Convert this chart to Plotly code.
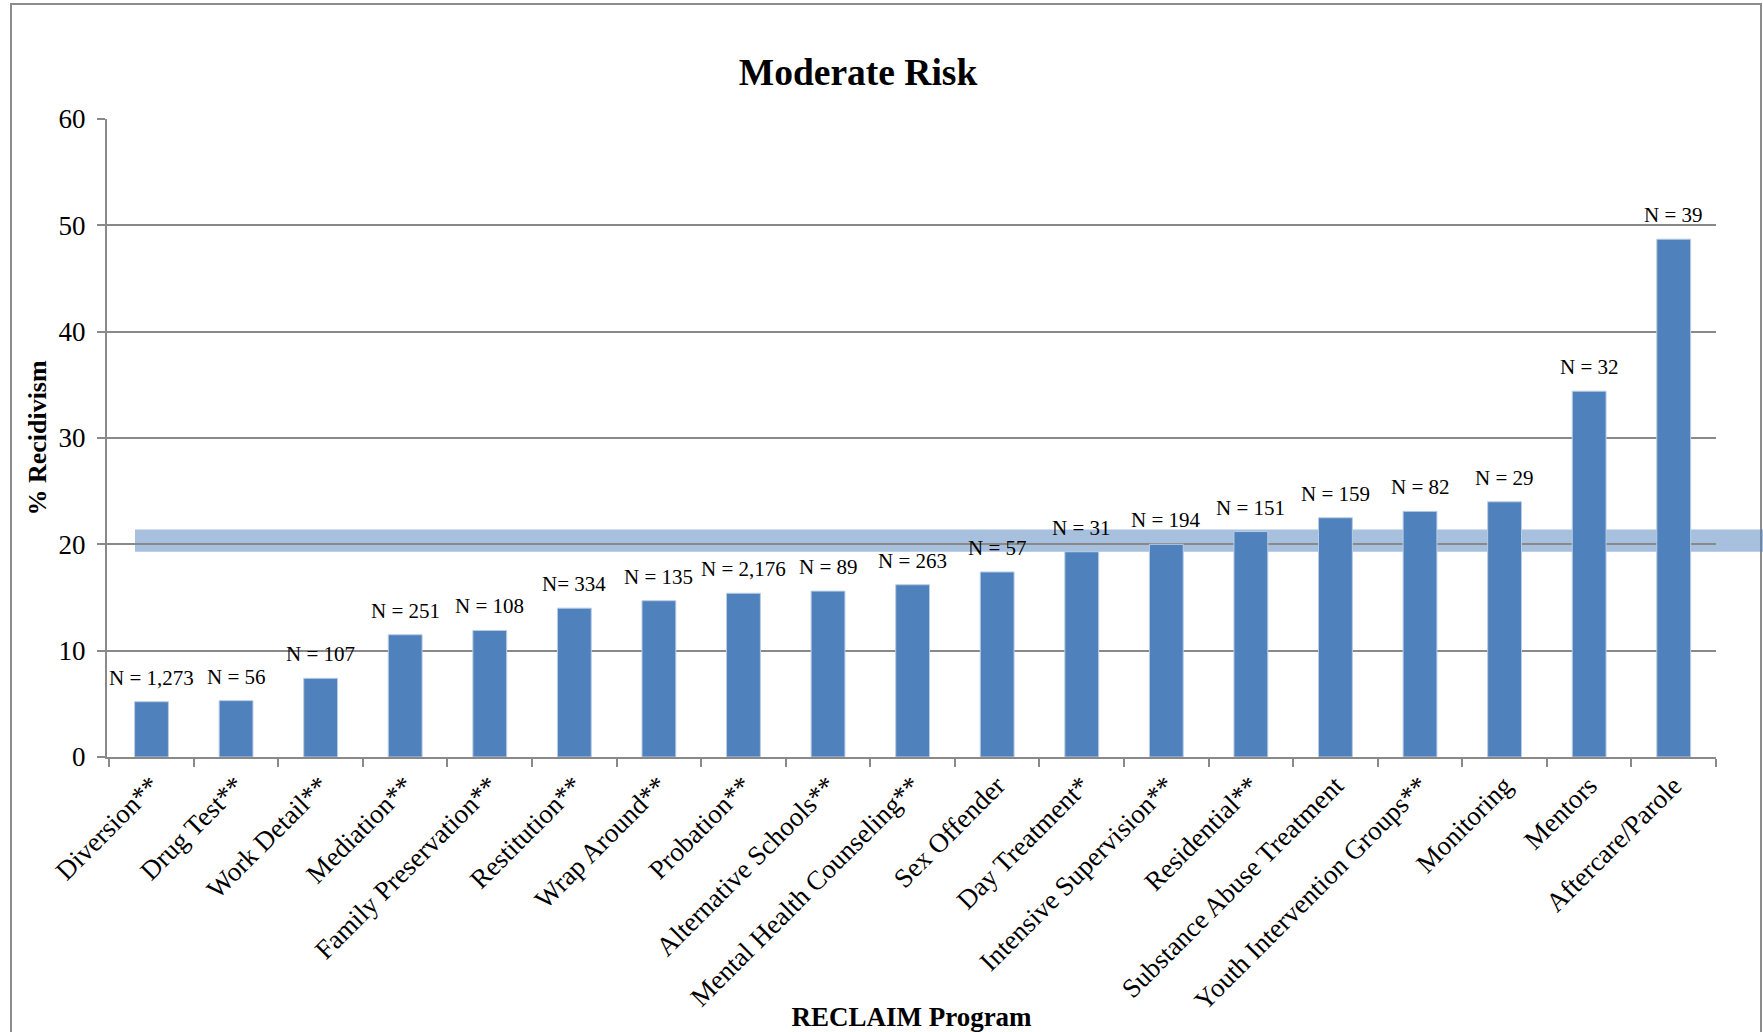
import plotly.graph_objects as go

programs = [
    "Diversion**", "Drug Test**", "Work Detail**", "Mediation**",
    "Family Preservation**", "Restitution**", "Wrap Around**", "Probation**",
    "Alternative Schools**", "Mental Health Counseling**", "Sex Offender",
    "Day Treatment*", "Intensive Supervision**", "Residential**",
    "Substance Abuse Treatment", "Youth Intervention Groups**", "Monitoring",
    "Mentors", "Aftercare/Parole",
]
recidivism = [5.2, 5.3, 7.4, 11.5, 11.9, 14.0, 14.7, 15.4, 15.6, 16.2,
              17.4, 19.3, 20.0, 21.2, 22.5, 23.1, 24.0, 34.4, 48.7]
n_labels = ["N = 1,273", "N = 56", "N = 107", "N = 251", "N = 108", "N= 334",
            "N = 135", "N = 2,176", "N = 89", "N = 263", "N = 57", "N = 31",
            "N = 194", "N = 151", "N = 159", "N = 82", "N = 29", "N = 32",
            "N = 39"]
y_ticks = [0, 10, 20, 30, 40, 50, 60]
band_low, band_high = 19.3, 21.4

FONT = "Liberation Serif"
GRID = "#898989"

W, H = 1763, 1032
L, T = 107, 119
PW, PH = 1609, 638

fig = go.Figure()
fig.add_trace(go.Bar(
    x=programs, y=recidivism,
    marker=dict(color="#4f81bd", line=dict(color="#b9cde5", width=1)),
    hoverinfo="x+y",
))

annotations = []
for p, v, t in zip(programs, recidivism, n_labels):
    annotations.append(dict(
        x=p, y=v, xref="x", yref="y", text=t, showarrow=False,
        yanchor="bottom", yshift=10,
        font=dict(family=FONT, size=21, color="#000000"),
    ))

shapes = [
    # outer chart frame
    dict(type="rect", xref="paper", yref="paper",
         x0=(11 - L) / PW, x1=(1761 - L) / PW, y0=-0.45, y1=(T + PH - 4) / PH,
         line=dict(color="#8c8c8c", width=2), fillcolor="rgba(0,0,0,0)",
         layer="below"),
    # highlight band
    dict(type="rect", xref="paper", yref="y",
         x0=0.0174, x1=1.04, y0=band_low, y1=band_high,
         line=dict(width=0), fillcolor="rgba(79,129,189,0.5)",
         layer="below"),
]

fig.update_layout(
    width=W, height=H,
    margin=dict(l=L, r=W - L - PW, t=T, b=H - T - PH, autoexpand=False),
    paper_bgcolor="white", plot_bgcolor="rgba(0,0,0,0)",
    font=dict(family=FONT, color="#000000"),
    bargap=0.6,
    showlegend=False,
    title=dict(text="<b>Moderate Risk</b>", x=858 / W, xref="container",
               xanchor="center", y=1 - 72 / H, yref="container",
               yanchor="middle", font=dict(family=FONT, size=37.5, color="#000")),
    annotations=annotations,
    shapes=shapes,
)
fig.update_xaxes(
    type="category", tickangle=-45, tickson="boundaries",
    ticks="outside", ticklen=8, tickcolor=GRID, tickwidth=2,
    showline=True, linecolor=GRID, linewidth=2,
    tickfont=dict(family=FONT, size=27, color="#000"),
    title=dict(text="<b>RECLAIM Program</b>", standoff=12,
               font=dict(family=FONT, size=27, color="#000")),
    showgrid=False, automargin=False,
)
fig.update_yaxes(
    range=[0, 60], tickvals=y_ticks, ticks="outside", ticklen=8,
    tickcolor=GRID, tickwidth=2,
    showline=True, linecolor=GRID, linewidth=2,
    showgrid=True, gridcolor=GRID, gridwidth=2,
    zeroline=False, ticklabelstandoff=6,
    tickfont=dict(family=FONT, size=27, color="#000"),
    title=dict(text="<b>% Recidivism</b>", standoff=4,
               font=dict(family=FONT, size=26, color="#000")),
    automargin=False,
)

fig.write_html("out.html", config={"displayModeBar": False},
               post_script="document.body.style.margin='0';document.body.style.overflow='hidden';")
